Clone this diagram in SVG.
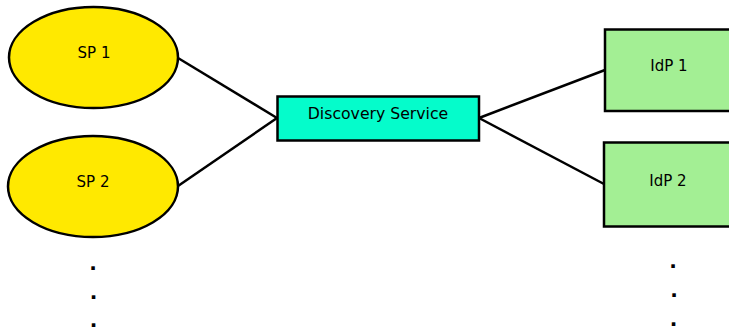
<svg xmlns="http://www.w3.org/2000/svg" width="729" height="328" viewBox="0 0 729 328">
<style>
.sp{fill:#FFE900;stroke:#000;stroke-width:2.5}
.ds{fill:#05FCCB;stroke:#000;stroke-width:2.5}
.idp{fill:#A3EF94;stroke:#000;stroke-width:2.5}
.t{font-family:"DejaVu Sans",sans-serif;font-size:15px;fill:#000;text-anchor:middle}
.d{font-family:"DejaVu Sans",sans-serif;font-size:20px;font-weight:bold;fill:#000;text-anchor:middle}
.c{stroke:#000;stroke-width:2.5;fill:none}
</style>
<rect width="729" height="328" fill="#fff"/>
<g id="connectors">
<line class="c" x1="178" y1="58" x2="277" y2="118"/>
<line class="c" x1="178" y1="186" x2="277" y2="118"/>
<line class="c" x1="479" y1="118" x2="605" y2="70"/>
<line class="c" x1="479" y1="118" x2="604" y2="184"/>
</g>
<g id="sp1"><ellipse class="sp" cx="93.5" cy="57.5" rx="84.5" ry="50.5"/><text class="t" x="94" y="58">SP 1</text></g>
<g id="sp2"><ellipse class="sp" cx="93" cy="186.5" rx="85" ry="50.5"/><text class="t" x="93" y="187">SP 2</text></g>
<g id="ds"><rect class="ds" x="277.5" y="96.5" width="201.5" height="44"/><text class="t" x="378" y="119" style="font-size:15.7px">Discovery Service</text></g>
<g id="idp1"><rect class="idp" x="605" y="29.5" width="130" height="81.5"/><text class="t" x="669" y="71">IdP 1</text></g>
<g id="idp2"><rect class="idp" x="604" y="142.5" width="131" height="84"/><text class="t" x="668" y="186">IdP 2</text></g>
<g id="dots-left"><text class="d" x="93" y="270">.</text><text class="d" x="93.5" y="299">.</text><text class="d" x="93.5" y="327">.</text></g>
<g id="dots-right"><text class="d" x="673" y="268">.</text><text class="d" x="674" y="297">.</text><text class="d" x="673.5" y="326">.</text></g>
</svg>
